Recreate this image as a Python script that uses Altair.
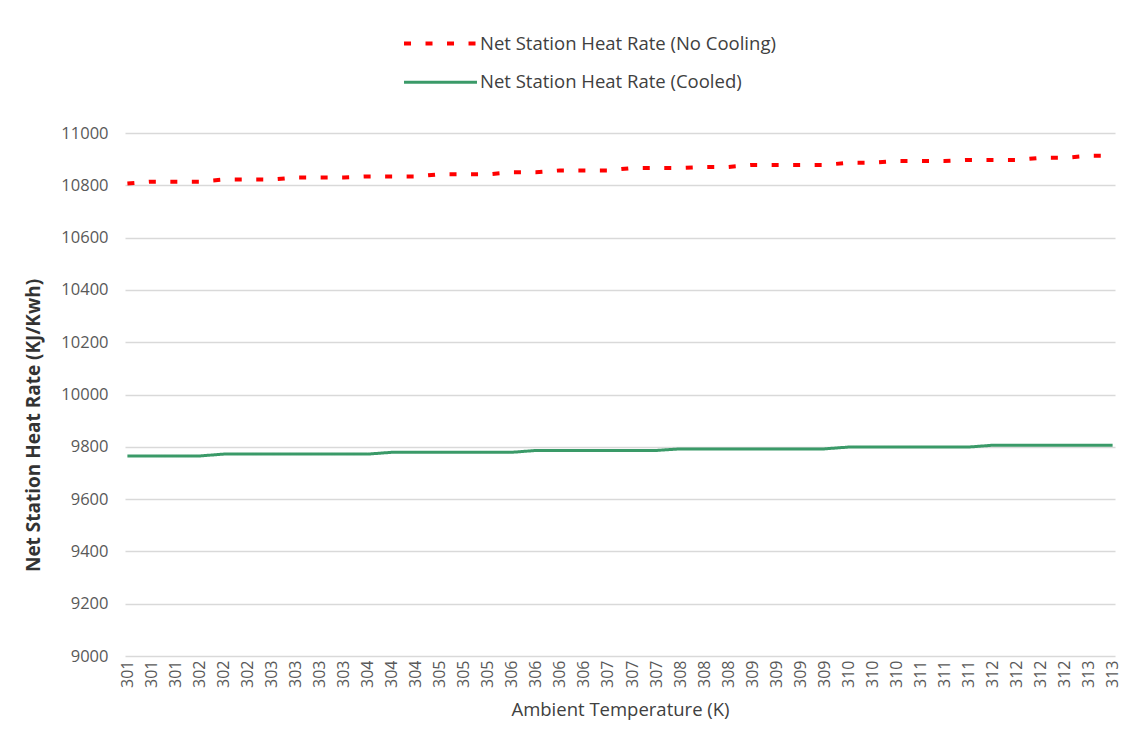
import altair as alt
import pandas as pd

# x-axis category labels (ambient temperature, K)
temp_labels = ['301', '301', '301', '302', '302', '302', '303', '303', '303', '303',
               '304', '304', '304', '305', '305', '305', '306', '306', '306', '306',
               '307', '307', '307', '308', '308', '308', '309', '309', '309', '309',
               '310', '310', '310', '311', '311', '311', '312', '312', '312', '312',
               '313', '313']

# Net station heat rate, no cooling (KJ/Kwh)
no_cooling = [10807, 10814, 10814, 10814, 10822, 10822, 10822, 10830, 10830, 10830,
              10834, 10834, 10834, 10842, 10842, 10842, 10850, 10850, 10857, 10857,
              10857, 10866, 10866, 10866, 10870, 10870, 10878, 10878, 10878, 10878,
              10886, 10886, 10893, 10893, 10893, 10897, 10897, 10897, 10905, 10905,
              10913, 10913]

# Net station heat rate, cooled (KJ/Kwh)
cooled = [9765, 9765, 9765, 9765, 9772, 9772, 9772, 9772, 9772, 9772,
          9772, 9779, 9779, 9779, 9779, 9779, 9779, 9786, 9786, 9786,
          9786, 9786, 9786, 9792, 9792, 9792, 9792, 9792, 9792, 9792,
          9799, 9799, 9799, 9799, 9799, 9799, 9806, 9806, 9806, 9806,
          9806, 9806]

series_names = ['Net Station Heat Rate (No Cooling)', 'Net Station Heat Rate (Cooled)']
series_colors = ['#FF0000', '#3A9A68']

rows = []
for i in range(len(temp_labels)):
    rows.append({'idx': i, 'series': series_names[0], 'value': no_cooling[i]})
    rows.append({'idx': i, 'series': series_names[1], 'value': cooled[i]})
df = pd.DataFrame(rows)

label_array = '[' + ','.join("'" + s + "'" for s in temp_labels) + ']'

FONT = 'Open Sans'

legend_opts = dict(title=None, orient='none', legendX=306, legendY=-99,
                   direction='vertical', symbolType='M-5,0H5', symbolSize=213,
                   symbolStrokeWidth=4, labelOffset=30, labelLimit=0,
                   labelFont=FONT, labelFontSize=18.5,
                   labelColor='#404040', rowPadding=20, padding=0)

chart = alt.Chart(df).mark_line().encode(
    x=alt.X('idx:O',
            scale=alt.Scale(type='point', padding=0.1),
            axis=alt.Axis(title='Ambient Temperature (K)', labelExpr=label_array + '[datum.value]',
                          labelAngle=270, labelAlign='right', labelBaseline='middle',
                          labelFontSize=16, labelColor='#595959', labelPadding=4,
                          labelFont=FONT, ticks=False, domain=False, grid=False,
                          titleFont=FONT, titleFontSize=18.5, titleFontWeight='normal',
                          titleColor='#404040', titleY=53, titleBaseline='middle')),
    y=alt.Y('value:Q',
            scale=alt.Scale(domain=[9000, 11000], nice=False, zero=False),
            axis=alt.Axis(title='Net Station Heat Rate (KJ/Kwh)',
                          values=list(range(9000, 11001, 200)), format='d',
                          labelFontSize=16.5, labelColor='#595959', labelFont=FONT,
                          labelPadding=17, ticks=False, domain=False,
                          gridColor='#D9D9D9', gridWidth=1.3,
                          titleFont=FONT, titleFontSize=19, titleFontWeight='bold',
                          titleColor='#333333', titleX=-92, titleY=292,
                          titleAngle=270, titleBaseline='middle', titleAlign='center')),
    color=alt.Color('series:N',
                    scale=alt.Scale(domain=series_names, range=series_colors),
                    sort=series_names,
                    legend=alt.Legend(**legend_opts)),
    strokeDash=alt.StrokeDash('series:N',
                              scale=alt.Scale(domain=series_names, range=[[7, 14.5], [1, 0]]),
                              sort=series_names,
                              legend=alt.Legend(**legend_opts)),
    strokeWidth=alt.StrokeWidth('series:N',
                                scale=alt.Scale(domain=series_names, range=[4, 3]),
                                legend=None),
).properties(
    width=990,
    height=523,
    autosize=alt.AutoSizeParams(type='none'),
    padding={'left': 117, 'top': 125, 'right': 7, 'bottom': 64},
).configure(
    background='white',
    view=alt.ViewConfig(stroke='transparent', strokeWidth=0),
)

chart.save('out.html', embed_options={'renderer': 'svg', 'actions': False})
